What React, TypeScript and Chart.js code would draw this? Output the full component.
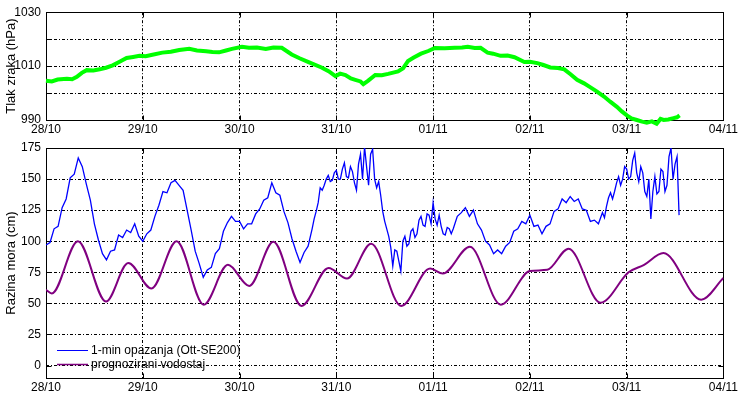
import React, { useEffect, useRef } from "react";
import { Chart, registerables } from "chart.js";

Chart.register(...registerables);

// ---------- data ----------
const dayLabels = ["28/10", "29/10", "30/10", "31/10", "01/11", "02/11", "03/11", "04/11"];
const dayTicks = [0, 1, 2, 3, 4, 5, 6, 7];
const pressureTicks = [990, 1000, 1010, 1020, 1030];
const pressureLabeled = [990, 1010, 1030];
const levelTicks = [0, 25, 50, 75, 100, 125, 150, 175];

const pressureDays = [
  0.0, 0.06, 0.12, 0.216, 0.27, 0.319, 0.37, 0.421, 0.49, 0.555, 0.62, 0.689, 0.76, 0.833, 0.9, 0.966,
  1.03, 1.1, 1.202, 1.29, 1.377, 1.48, 1.56, 1.655, 1.72, 1.788, 1.86, 1.922, 2.025, 2.097, 2.18, 2.271,
  2.35, 2.436, 2.539, 2.62, 2.713, 2.847, 2.92, 2.991, 3.04, 3.094, 3.15, 3.196, 3.25, 3.279, 3.33, 3.402,
  3.47, 3.535, 3.638, 3.69, 3.741, 3.8, 3.875, 3.95, 4.018, 4.12, 4.224, 4.3, 4.358, 4.43, 4.491, 4.563,
  4.62, 4.697, 4.77, 4.841, 4.943, 5.0, 5.077, 5.14, 5.211, 5.29, 5.355, 5.42, 5.488, 5.56, 5.622, 5.69,
  5.766, 5.83, 5.899, 5.95, 6.002, 6.05, 6.105, 6.16, 6.208, 6.26, 6.31, 6.35, 6.382, 6.43, 6.485, 6.52, 6.547,
];
const pressureValues = [
  1004.6, 1004.3, 1005.0, 1005.3, 1005.1, 1006.0, 1007.5, 1008.5, 1008.4, 1008.8, 1009.4, 1010.3, 1011.6, 1013.0, 1013.4, 1013.8,
  1013.7, 1014.2, 1015.0, 1015.3, 1016.0, 1016.4, 1015.8, 1015.5, 1015.2, 1015.1, 1015.8, 1016.4, 1017.2, 1016.8, 1016.9, 1016.4,
  1016.9, 1016.8, 1014.3, 1012.9, 1011.5, 1009.5, 1008.1, 1006.3, 1007.2, 1006.7, 1005.4, 1004.9, 1004.3, 1003.3, 1004.6, 1006.7,
  1006.6, 1007.1, 1008.0, 1009.2, 1011.9, 1013.2, 1014.6, 1015.6, 1016.7, 1016.6, 1016.8, 1016.9, 1017.2, 1016.7, 1016.8, 1015.0,
  1014.6, 1013.8, 1013.9, 1013.3, 1011.5, 1011.6, 1011.1, 1010.4, 1009.5, 1009.3, 1008.8, 1007.0, 1004.9, 1003.6, 1002.2, 1000.6,
  998.7, 996.8, 994.9, 993.2, 991.7, 990.6, 990.0, 989.4, 989.0, 989.5, 988.6, 990.4, 990.0, 990.2, 990.7, 991.0, 991.7,
];

// observed sea level, hourly samples starting 28/10 00:00
const observedStepHours = 1;
const observedValues = [
  97, 99, 110, 112, 127, 134, 151, 154, 167, 160, 146, 133, 114, 101, 90, 85,
  92, 93, 105, 103, 109, 107, 114, 104, 100, 106, 109, 120, 129, 140, 139, 147,
  149, 145, 141, 125, 109, 92, 82, 71, 77, 79, 90, 94, 108, 115, 120, 116,
  116, 110, 114, 114, 122, 126, 133, 135, 147, 139, 137, 124, 115, 102, 92, 83,
  91, 96, 110, 124, 143, 145, 153, 149, 157, 150, 163, 151, 156, 141, 170, 176,
  145, 174, 143, 137, 116, 104, 80, 92, 76, 104, 98, 110, 106, 120, 112, 121,
  131, 113, 112, 105, 110, 110, 120, 123, 127, 120, 125, 114, 109, 100, 97, 90,
  93, 90, 96, 99, 108, 110, 116, 114, 121, 112, 113, 106, 112, 114, 124, 126,
  134, 131, 136, 132, 134, 126, 125, 116, 117, 114, 123, 128, 139, 140, 152, 150,
  158, 152, 171, 148, 155, 136, 118, 152, 140, 156, 145, 175, 162, 121,
];
// extra half-hour samples in the noisy stretches (hour of sample, value)
const observedExtraHours = [
  66.5, 67.5, 68.5, 69.5, 70.5, 71.5, 72.5, 73.5, 74.5, 75.5, 76.5, 77.5, 78.5, 79.5, 80.5, 81.5,
  82.5, 83.5, 84.5, 85.5, 86.5, 87.5, 88.5, 89.5, 90.5, 91.5, 92.5, 93.5, 94.5, 95.5, 96.5, 97.5,
  98.5, 99.5, 100.5,
  138.5, 139.5, 140.5, 141.5, 142.5, 143.5, 144.5, 145.5, 146.5, 147.5, 148.5, 149.5, 150.5, 151.5,
  152.5, 153.5, 154.5, 155.5, 156.5,
];
const observedExtraValues = [
  118, 131, 141, 150, 148, 155, 150, 158, 152, 160, 147, 162, 150, 160, 170, 150,
  148, 124, 110, 95, 93, 84, 100, 96, 108, 103, 117, 113, 122, 114, 118, 121,
  106, 111, 106,
  119, 135, 134, 147, 145, 160, 150, 165, 155, 160, 140, 150, 140, 138,
  158, 140, 168, 150, 168,
];

const predictedDays = [
  0.0, 0.06, 0.33, 0.62, 0.85, 1.09, 1.35, 1.63, 1.88, 2.1, 2.35, 2.64, 2.92, 3.11, 3.36, 3.67,
  3.97, 4.1, 4.38, 4.7, 5.0, 5.18, 5.4, 5.73, 6.02, 6.18, 6.38, 6.77, 7.0,
];
const predictedValues = [
  61, 58, 100, 51.5, 82.5, 62, 100, 49, 81, 64, 99.5, 48, 78.5, 70, 98, 48,
  78, 74, 95.5, 49, 76, 77, 94, 50.5, 75, 81, 90.5, 53, 70.5,
];

const seriesNames = ["1-min opazanja (Ott-SE200)", "prognozirani vodostaj"];
const axisTitles = ["Tlak zraka (hPa)", "Razina mora (cm)"];

// ---------- styling helpers ----------
const FONT = "'Liberation Sans', Arial, sans-serif";
const GREEN = "#00ff00";
const BLUE = "#0000ff";
const PURPLE = "#800080";

const framePlugin = {
  id: "frame",
  beforeDatasetsDraw(chart: any) {
    const { ctx, chartArea: a, scales } = chart;
    ctx.save();
    ctx.setLineDash([]);
    ctx.strokeStyle = "#000";
    ctx.lineWidth = 1;
    const L = Math.round(a.left) + 0.5;
    const R = Math.round(a.right) + 0.5;
    const T = Math.round(a.top) + 0.5;
    const B = Math.round(a.bottom) + 0.5;
    ctx.strokeRect(L, T, R - L, B - T);
    ctx.beginPath();
    scales.x.ticks.forEach((t: any) => {
      const px = Math.round(scales.x.getPixelForValue(t.value)) + 0.5;
      ctx.moveTo(px, B); ctx.lineTo(px, B - 5);
      ctx.moveTo(px, T); ctx.lineTo(px, T + 5);
    });
    scales.y.ticks.forEach((t: any) => {
      const py = Math.round(scales.y.getPixelForValue(t.value)) + 0.5;
      ctx.moveTo(L, py); ctx.lineTo(L + 5, py);
      ctx.moveTo(R, py); ctx.lineTo(R - 5, py);
    });
    ctx.stroke();
    ctx.restore();
  },
};

const legendPlugin = {
  id: "insideLegend",
  afterDatasetsDraw(chart: any) {
    if (!chart.options.plugins.insideLegend) return;
    const { ctx, chartArea: a } = chart;
    const items = [
      { color: BLUE, width: 1, text: seriesNames[0], dy: -28 },
      { color: PURPLE, width: 1.5, text: seriesNames[1], dy: -14 },
    ];
    ctx.save();
    ctx.setLineDash([]);
    ctx.font = `12px ${FONT}`;
    ctx.textBaseline = "middle";
    ctx.textAlign = "left";
    items.forEach((it) => {
      const y = Math.round(a.bottom + it.dy) + 0.5;
      ctx.strokeStyle = it.color;
      ctx.lineWidth = it.width;
      ctx.beginPath();
      ctx.moveTo(a.left + 11, y);
      ctx.lineTo(a.left + 42, y);
      ctx.stroke();
      ctx.fillStyle = "#000";
      ctx.fillText(it.text, a.left + 45, y);
    });
    ctx.restore();
  },
};

function xScale() {
  return {
    type: "linear" as const,
    min: 0,
    max: 7,
    afterBuildTicks: (s: any) => { s.ticks = dayTicks.map((v) => ({ value: v })); },
    afterFit: (s: any) => { s.height = 15; },
    ticks: {
      color: "#000",
      padding: 2,
      maxRotation: 0,
      autoSkip: false,
      font: { family: FONT, size: 12 },
      callback: (v: any) => dayLabels[Math.round(v)] ?? "",
    },
    grid: { color: "#000", lineWidth: 1, drawTicks: false },
    border: { display: false, dash: [3, 2, 1, 2] },
  };
}

function yScale(min: number, max: number, tickVals: number[], labeled: number[], title: string) {
  return {
    type: "linear" as const,
    min,
    max,
    afterBuildTicks: (s: any) => { s.ticks = tickVals.map((v) => ({ value: v })); },
    afterFit: (s: any) => { s.width = 46; },
    ticks: {
      color: "#000",
      padding: 5,
      autoSkip: false,
      font: { family: FONT, size: 12 },
      callback: (v: any) => (labeled.includes(v) ? String(v) : ""),
    },
    grid: { color: "#000", lineWidth: 1, drawTicks: false },
    border: { display: false, dash: [3, 2, 1, 2] },
    title: { display: true, text: title, color: "#000", font: { family: FONT, size: 13 }, padding: { top: 4, bottom: 4 } },
  };
}

export default function App() {
  const topRef = useRef<HTMLCanvasElement>(null);
  const botRef = useRef<HTMLCanvasElement>(null);

  useEffect(() => {
    const pressureData = pressureDays.map((d, i) => ({ x: d, y: pressureValues[i] }));
    const observedData = observedValues
      .map((v, i) => ({ x: (i * observedStepHours) / 24, y: v }))
      .concat(observedExtraHours.map((h, i) => ({ x: h / 24, y: observedExtraValues[i] })))
      .sort((p, q) => p.x - q.x);
    const predictedData = predictedDays.map((d, i) => ({ x: d, y: predictedValues[i] }));

    const top = new Chart(topRef.current!, {
      type: "line",
      data: {
        datasets: [
          { data: pressureData, borderColor: GREEN, borderWidth: 4, pointRadius: 0, tension: 0, clip: 8 } as any,
        ],
      },
      options: {
        responsive: false,
        animation: false,
        layout: { padding: { top: 5, right: 13, left: 0, bottom: 0 } },
        plugins: { legend: { display: false }, tooltip: { enabled: false } },
        scales: {
          x: xScale(),
          y: yScale(990, 1030, pressureTicks, pressureLabeled, axisTitles[0]),
        } as any,
      },
      plugins: [framePlugin],
    });

    const bot = new Chart(botRef.current!, {
      type: "line",
      data: {
        datasets: [
          { data: observedData, borderColor: BLUE, borderWidth: 1.3, pointRadius: 0, tension: 0 },
          { data: predictedData, borderColor: PURPLE, borderWidth: 2, pointRadius: 0, cubicInterpolationMode: "monotone" } as any,
        ],
      },
      options: {
        responsive: false,
        animation: false,
        layout: { padding: { top: 13, right: 13, left: 0, bottom: 0 } },
        plugins: { legend: { display: false }, tooltip: { enabled: false }, insideLegend: true } as any,
        scales: {
          x: xScale(),
          y: yScale(-10, 175, levelTicks, levelTicks, axisTitles[1]),
        } as any,
      },
      plugins: [framePlugin, legendPlugin],
    });

    return () => { top.destroy(); bot.destroy(); };
  }, []);

  return (
    <div style={{ position: "fixed", left: 0, top: 0, width: 740, height: 393, background: "#fff" }}>
      <canvas ref={topRef} width={740} height={135} style={{ position: "absolute", left: 0, top: 0, width: 740, height: 135 }} />
      <canvas ref={botRef} width={740} height={258} style={{ position: "absolute", left: 0, top: 135, width: 740, height: 258 }} />
    </div>
  );
}
